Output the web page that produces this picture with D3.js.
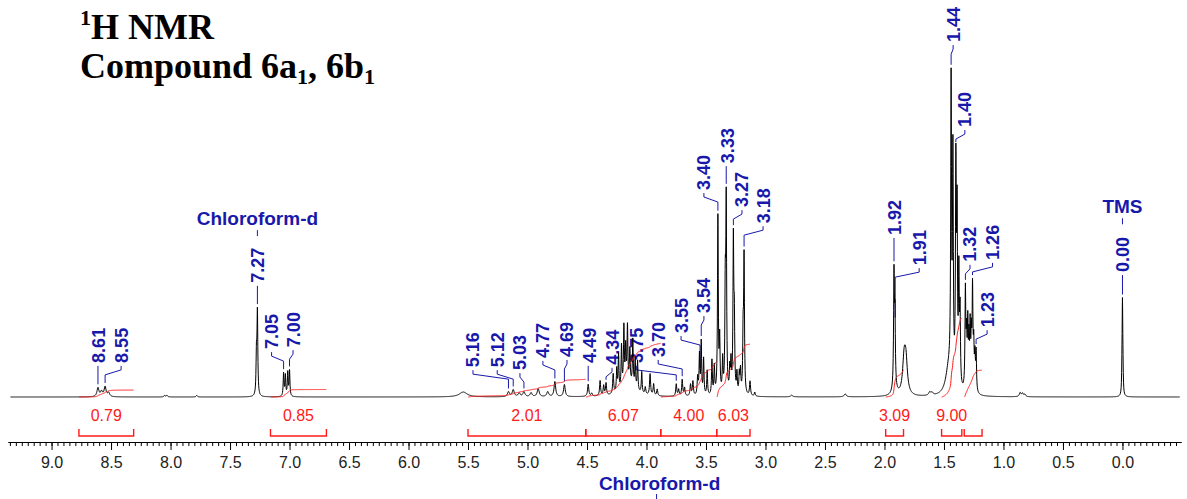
<!DOCTYPE html>
<html>
<head>
<meta charset="utf-8">
<script src="https://cdn.jsdelivr.net/npm/d3@7/dist/d3.min.js"></script>
<style>
  html, body { margin: 0; padding: 0; background: #fff; }
  svg { display: block; }
</style>
</head>
<body>
<svg id="chart" width="1187" height="499"></svg>
<script>
// ---------- spectrum lines: [shift (ppm), intensity, half-width (ppm)] ----------
const aromaticPeaks = [
  [8.61, 2.7, 0.010], [8.58, 1.5, 0.010], [8.55, 3.0, 0.010], [8.52, 1.2, 0.010],
  [8.05, 0.5, 0.006], [8.03, 0.5, 0.006], [7.78, 0.5, 0.006],
  [7.278, 12, 0.004], [7.27, 25, 0.004],
  [7.05, 7.0, 0.004], [7.035, 6.3, 0.004], [7.015, 7.2, 0.004], [7.00, 7.8, 0.004]
];
const midfieldPeaks = [
  [5.54, 1.5, 0.04],
  [5.16, 1.5, 0.010], [5.12, 2.1, 0.010], [5.07, 1.1, 0.010], [5.03, 1.5, 0.010],
  [4.97, 1.2, 0.010], [4.91, 2.4, 0.010], [4.83, 1.5, 0.010], [4.77, 4.6, 0.008],
  [4.69, 3.7, 0.008], [4.49, 3.7, 0.006], [4.46, 0.9, 0.006],
  [4.39, 4.6, 0.005], [4.36, 3.0, 0.005], [4.34, 3.7, 0.005], [4.28, 6.1, 0.005],
  [4.25, 7.0, 0.004], [4.235, 11, 0.004], [4.21, 13, 0.004], [4.19, 18, 0.004],
  [4.175, 11, 0.004], [4.16, 17, 0.004], [4.14, 10, 0.004], [4.115, 14, 0.004],
  [4.095, 9, 0.004], [4.075, 9, 0.004], [4.04, 6.5, 0.004], [4.01, 2.2, 0.005],
  [3.97, 6.5, 0.005], [3.94, 3.5, 0.005], [3.91, 2.0, 0.005], [4.15, 4.0, 0.06]
];
const methylPeaks = [
  [3.75, 3.7, 0.005], [3.73, 2.0, 0.005], [3.70, 5.0, 0.005], [3.68, 2.5, 0.005],
  [3.63, 3.5, 0.005], [3.61, 4.4, 0.005], [3.57, 5.5, 0.005], [3.555, 12, 0.004],
  [3.54, 16, 0.004], [3.52, 11, 0.004], [3.49, 7.5, 0.004], [3.45, 10.5, 0.004],
  [3.43, 8.5, 0.004], [3.40, 54, 0.004], [3.385, 16, 0.004], [3.36, 10, 0.004],
  [3.338, 30, 0.004], [3.33, 57, 0.004], [3.30, 7, 0.004], [3.29, 9, 0.004],
  [3.27, 46, 0.004], [3.262, 21, 0.004], [3.24, 6, 0.004], [3.22, 6, 0.004],
  [3.21, 7, 0.004], [3.188, 17, 0.004], [3.18, 41, 0.004], [3.13, 4.4, 0.005],
  [3.09, 1.2, 0.005]
];
const aliphaticPeaks = [
  [2.78, 0.5, 0.01], [2.33, 0.9, 0.01],
  [1.92, 34, 0.004], [1.912, 20, 0.004], [1.915, 2, 0.02],
  [1.835, 10, 0.015], [1.82, 9.5, 0.015],
  [1.62, 1.0, 0.01], [1.60, 0.8, 0.01],
  [1.46, 8, 0.03], [1.44, 89, 0.004], [1.425, 68, 0.004], [1.40, 65, 0.004],
  [1.39, 50, 0.004], [1.375, 33, 0.004], [1.365, 22, 0.004],
  [1.32, 30, 0.004], [1.31, 15, 0.004], [1.30, 19, 0.004], [1.29, 14, 0.004],
  [1.28, 18, 0.004], [1.27, 15, 0.004], [1.26, 30, 0.004], [1.25, 13, 0.004],
  [1.24, 10, 0.004], [1.23, 12, 0.004],
  [0.86, 1.2, 0.008], [0.84, 1.0, 0.008], [0.82, 0.7, 0.008]
];
const referencePeaks = [
  [0.004, 6, 0.003], [0.00, 26, 0.003], [-0.004, 6, 0.003]
];

// ---------- picked peak labels (ppm) ----------
const peakLabels = ["8.61", "8.55", "7.27", "7.05", "7.00", "5.16", "5.12", "5.03",
  "4.77", "4.69", "4.49", "4.34", "3.75", "3.70", "3.55", "3.54", "3.40", "3.33",
  "3.27", "3.18", "1.92", "1.91", "1.44", "1.40", "1.32", "1.26", "1.23", "0.00"];

// ---------- integrals ----------
const integralStart  = [8.77, 7.16, 5.50, 4.51, 3.88, 3.41, 1.99, 1.52, 1.33];
const integralEnd    = [8.31, 6.69, 4.51, 3.88, 3.41, 3.13, 1.84, 1.35, 1.18];
const integralValues = [0.79, 0.85, 2.01, 6.07, 4.00, 6.03, 3.09, 9.00, 3.05];
const integralLabels = ["0.79", "0.85", "2.01", "6.07", "4.00", "6.03", "3.09", "9.00", null];

// ---------- axis ----------
const axisTicks = [9.0, 8.5, 8.0, 7.5, 7.0, 6.5, 6.0, 5.5, 5.0, 4.5, 4.0, 3.5, 3.0, 2.5, 2.0, 1.5, 1.0, 0.5, 0.0];

// ---------- solvent / reference annotations ----------
const solventNames  = ["Chloroform-d", "TMS"];
const solventShifts = [7.27, 0.00];
const lowerNames    = ["Chloroform-d", "TMS"];
const lowerShifts   = [3.89, -0.165];

// ---------- layout ----------
const BLUE = "#1818aa", RED = "#ff1a1a";
const SANS = "'Liberation Sans', Arial, sans-serif";
const SERIF = "'Liberation Serif', 'Times New Roman', serif";
// horizontal offset of each label from its peak (px) and label foot height (intensity units)
const labelOffsets = [1, 16, 0, -12, 3.5, -35.5, -16, -4, -12, 2.6, 1.8, 6, -40, -24,
  -19, 2.7, -14, 0.8, 8.6, 19, 1, 24, 2, 9, 4.6, 20, 11, 0];
const labelFeet = [10.4, 10.4, 34.8, 14.6, 15.2, 9.1, 9.1, 8.2, 11.9, 12.2, 10.4, 9.8,
  10.4, 12.2, 19.5, 25.6, 63.1, 71.3, 57.9, 53.0, 49.4, 40.2, 108.2, 82.3, 41.2, 41.8, 21.3, 38.1];
const solventFeet = [52.4, 56.0];
const integralPxPerUnit = 8.8;
const axisY = 442, bracketY = 436, bracketTick = 7, integralTextY = 421;

const x = d3.scaleLinear().domain([9.366, -0.492]).range([8, 1181]);
const y = d3.scaleLinear().domain([0, 100]).range([397, 69]);

const svg = d3.select("#chart");

// ---------- line-shape model ----------
const allPeaks = [].concat(aromaticPeaks, midfieldPeaks, methylPeaks, aliphaticPeaks, referencePeaks);
function intensityAt(ppm) {
  let s = 0;
  for (const [c, h, w] of allPeaks) {
    const d = ppm - c;
    s += h * w * w / (d * d + w * w);
  }
  return s;
}
const specHi = 9.345, specLo = -0.48;
const grid = d3.range(0, Math.round((specHi - specLo) / 0.002) + 1).map(i => specHi - i * 0.002);
const shifts = Array.from(new Set(grid.concat(allPeaks.map(p => p[0]).filter(p => p <= specHi && p >= specLo))))
  .sort((a, b) => b - a);
const spectrum = shifts.map(p => ({ ppm: p, v: intensityAt(p) }));

// ---------- title ----------
const t1 = svg.append("text").attr("x", 80).attr("y", 39)
  .attr("font-family", SERIF).attr("font-weight", "bold").attr("font-size", 36).attr("fill", "#000");
t1.append("tspan").attr("font-size", 22).attr("dy", -14).text("1");
t1.append("tspan").attr("dy", 14).text("H NMR");
const t2 = svg.append("text").attr("x", 80).attr("y", 78)
  .attr("font-family", SERIF).attr("font-weight", "bold").attr("font-size", 36).attr("fill", "#000");
t2.append("tspan").text("Compound 6a");
t2.append("tspan").attr("font-size", 22).attr("dy", 6).text("1");
t2.append("tspan").attr("dy", -6).text(", 6b");
t2.append("tspan").attr("font-size", 22).attr("dy", 6).text("1");

// ---------- peak labels with leaders ----------
const gLab = svg.append("g");
const leader = d3.line();
peakLabels.forEach((lab, i) => {
  const ppm = +lab;
  const px = x(ppm);
  const lx = px + labelOffsets[i];
  const foot = y(labelFeet[i]);
  const top = y(intensityAt(ppm));
  gLab.append("text")
    .attr("transform", `translate(${lx},${foot}) rotate(-90)`)
    .attr("dy", "0.36em")
    .attr("font-family", SANS).attr("font-weight", "bold").attr("font-size", 18)
    .attr("fill", BLUE).text(lab);
  let pts;
  if (Math.abs(lx - px) < 2) {
    pts = [[px, foot + 3], [px, Math.max(foot + 6, top - 3)]];
  } else {
    const y1 = foot + 7, y2 = foot + 12;
    pts = [[lx, foot + 3], [lx, y1], [px, y2], [px, Math.max(y2 + 3, top - 3)]];
  }
  gLab.append("path").attr("d", leader(pts)).attr("fill", "none")
    .attr("stroke", BLUE).attr("stroke-width", 1);
});

// solvent / reference names above their peaks
solventNames.forEach((name, i) => {
  const px = x(solventShifts[i]);
  const base = y(solventFeet[i]);
  gLab.append("text").attr("x", px).attr("y", base).attr("text-anchor", "middle")
    .attr("font-family", SANS).attr("font-weight", "bold").attr("font-size", 19)
    .attr("fill", BLUE).text(name);
  gLab.append("path").attr("d", leader([[px, base + 5], [px, base + 11]]))
    .attr("stroke", BLUE).attr("stroke-width", 1);
});

// ---------- spectrum ----------
const specLine = d3.line().x(d => x(d.ppm)).y(d => y(d.v));
svg.append("path").datum(spectrum).attr("d", specLine)
  .attr("fill", "none").attr("stroke", "#000").attr("stroke-width", 1);

// ---------- integral curves and brackets ----------
const gInt = svg.append("g");
integralStart.forEach((a, i) => {
  const b = integralEnd[i];
  const seg = spectrum.filter(d => d.ppm <= a && d.ppm >= b);
  let cum = 0;
  const acc = seg.map((d, j) => {
    if (j > 0) cum += (seg[j - 1].ppm - d.ppm) * (seg[j - 1].v + d.v) / 2;
    return { ppm: d.ppm, c: cum };
  });
  const total = cum || 1;
  const rise = integralValues[i] * integralPxPerUnit;
  gInt.append("path").datum(acc)
    .attr("d", d3.line().x(d => x(d.ppm)).y(d => y(0) - d.c / total * rise))
    .attr("fill", "none").attr("stroke", RED).attr("stroke-width", 1);

  const xa = x(a), xb = x(b);
  gInt.append("path")
    .attr("d", `M${xa},${bracketY - bracketTick}V${bracketY}H${xb}V${bracketY - bracketTick}`)
    .attr("fill", "none").attr("stroke", RED).attr("stroke-width", 1.4);
  if (integralLabels[i]) {
    gInt.append("text").attr("x", (xa + xb) / 2).attr("y", integralTextY)
      .attr("text-anchor", "middle").attr("font-family", SANS).attr("font-size", 16)
      .attr("fill", RED).text(integralLabels[i]);
  }
});

// ---------- ppm axis ----------
const minor = d3.range(-9, 188).map(i => +(i * 0.05).toFixed(2));
svg.append("g").attr("transform", `translate(0,${axisY})`)
  .call(d3.axisBottom(x).tickValues(minor).tickSize(4).tickSizeOuter(0).tickFormat(""));
const gAxis = svg.append("g").attr("transform", `translate(0,${axisY})`)
  .call(d3.axisBottom(x).tickValues(axisTicks).tickSize(8).tickSizeOuter(0)
    .tickPadding(7).tickFormat(d3.format(".1f")));
gAxis.selectAll("text").attr("font-family", SANS).attr("font-size", 16).attr("fill", "#222");
svg.selectAll(".domain").attr("stroke", "#000");
svg.selectAll(".tick line").attr("stroke", "#000");

// ---------- labels of the lower trace ----------
lowerNames.forEach((name, i) => {
  const px = x(lowerShifts[i]);
  svg.append("text").attr("x", px).attr("y", i === 0 ? 490 : 512).attr("text-anchor", "middle")
    .attr("font-family", SANS).attr("font-weight", "bold").attr("font-size", 19)
    .attr("fill", BLUE).text(name);
  if (i === 0) {
    svg.append("path").attr("d", leader([[px - 3, 494], [px - 3, 500]]))
      .attr("stroke", BLUE).attr("stroke-width", 1);
  }
});
</script>
</body>
</html>
